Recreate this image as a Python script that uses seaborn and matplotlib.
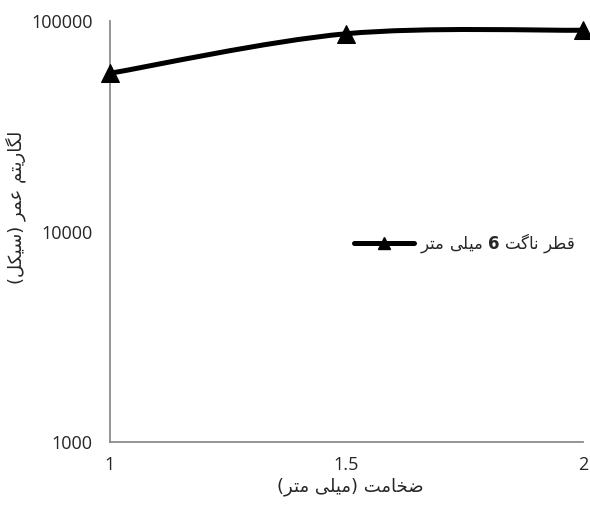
import numpy as np
import matplotlib
matplotlib.use("Agg")
import matplotlib.pyplot as plt
import seaborn as sns
import pandas as pd
from matplotlib.path import Path
from matplotlib.patches import PathPatch
from matplotlib.lines import Line2D
from matplotlib.ticker import NullLocator

# ---------------- data ----------------
thickness = [1.0, 1.5, 2.0]
life = [56400, 87000, 90400]
x_ticks = [1.0, 1.5, 2.0]
x_ticklabels = ["1", "1.5", "2"]
y_ticks = [1000, 10000, 100000]
y_ticklabels = ["1000", "10000", "100000"]
series_label = "قطر ناگت 6 میلی متر"
x_label = "ضخامت (میلی متر)"
y_label = "لگاریتم عمر (سیکل)"

# ---------------- simple Persian shaping (matplotlib has no RTL shaping) ----------------
FORMS = {
    "ق": (0xFED5, 0xFED6, 0xFED7, 0xFED8),
    "ط": (0xFEC1, 0xFEC2, 0xFEC3, 0xFEC4),
    "ر": (0xFEAD, 0xFEAE, None, None),
    "ن": (0xFEE5, 0xFEE6, 0xFEE7, 0xFEE8),
    "ا": (0xFE8D, 0xFE8E, None, None),
    "گ": (0xFB92, 0xFB93, 0xFB94, 0xFB95),
    "ت": (0xFE95, 0xFE96, 0xFE97, 0xFE98),
    "م": (0xFEE1, 0xFEE2, 0xFEE3, 0xFEE4),
    "ی": (0xFBFC, 0xFBFD, 0xFBFE, 0xFBFF),
    "ل": (0xFEDD, 0xFEDE, 0xFEDF, 0xFEE0),
    "ع": (0xFEC9, 0xFECA, 0xFECB, 0xFECC),
    "س": (0xFEB1, 0xFEB2, 0xFEB3, 0xFEB4),
    "ک": (0xFB8E, 0xFB8F, 0xFB90, 0xFB91),
    "ض": (0xFEBD, 0xFEBE, 0xFEBF, 0xFEC0),
    "خ": (0xFEA5, 0xFEA6, 0xFEA7, 0xFEA8),
}
MIRROR = {"(": ")", ")": "("}


def shape(text):
    out = []
    n = len(text)
    for i, ch in enumerate(text):
        if ch not in FORMS:
            out.append(ch)
            continue
        iso, fin, ini, med = FORMS[ch]
        prev = text[i - 1] if i > 0 else None
        nxt = text[i + 1] if i < n - 1 else None
        jp = prev in FORMS and FORMS[prev][2] is not None
        jn = nxt in FORMS and ini is not None
        if jp and jn:
            code = med
        elif jp:
            code = fin
        elif jn:
            code = ini
        else:
            code = iso
        out.append(chr(code))
    vis = "".join(MIRROR.get(c, c) for c in reversed(out))
    return vis


# ---------------- style ----------------
sns.set_theme(style="white")
plt.rcParams["font.family"] = ["Open Sans", "DejaVu Sans"]
plt.rcParams["mathtext.fontset"] = "dejavusans"
GRAY = "#8c8c8c"
TXT = "#262626"
FA = ["DejaVu Sans"]

fig = plt.figure(figsize=(5.9, 5.16), dpi=100)
ax = fig.add_axes([0.1856, 0.1434, 0.8025, 0.8159])

df = pd.DataFrame({"thickness": thickness, "life": life})

# markers via seaborn
sns.lineplot(data=df, x="thickness", y="life", ax=ax, color="black",
             marker="^", markersize=13, markeredgecolor="black",
             linestyle="none", legend=False, clip_on=False, zorder=4)
ax.set_yscale("log")

# smoothed connecting line (Excel-like smoothing, bezier in x/log-y space)
xs = np.array(thickness, dtype=float)
ls = np.log10(np.array(life, dtype=float))
verts = [(xs[0], 10 ** ls[0])]
codes = [Path.MOVETO]
npt = len(xs)
for i in range(npt - 1):
    p0 = np.array([xs[max(i - 1, 0)], ls[max(i - 1, 0)]])
    p1 = np.array([xs[i], ls[i]])
    p2 = np.array([xs[i + 1], ls[i + 1]])
    p3 = np.array([xs[min(i + 2, npt - 1)], ls[min(i + 2, npt - 1)]])
    c1 = p1 + (p2 - p0) / 6.0
    c2 = p2 - (p3 - p1) / 6.0
    for p in (c1, c2, p2):
        verts.append((p[0], 10 ** p[1]))
        codes.append(Path.CURVE4)
patch = PathPatch(Path(verts, codes), facecolor="none", edgecolor="black",
                  lw=3.6, capstyle="round", joinstyle="round",
                  clip_on=False, zorder=3, transform=ax.transData)
ax.add_patch(patch)

ax.set_xlim(1.0, 2.0)
ax.set_ylim(1000, 100000)
ax.set_xticks(x_ticks)
ax.set_xticklabels(x_ticklabels)
ax.set_yticks(y_ticks)
ax.set_yticklabels(y_ticklabels)
ax.yaxis.set_minor_locator(NullLocator())
ax.xaxis.set_minor_locator(NullLocator())
ax.set_xlabel("")
ax.set_ylabel("")

for s in ("top", "right"):
    ax.spines[s].set_visible(False)
for s in ("left", "bottom"):
    ax.spines[s].set_color(GRAY)
    ax.spines[s].set_linewidth(1.3)
ax.tick_params(axis="both", which="major", direction="inout", length=10,
               width=1.3, color=GRAY, labelsize=13, labelcolor=TXT)
ax.tick_params(axis="y", pad=7)
ax.tick_params(axis="x", pad=5)
ax.grid(False)

# axis titles
fig.text(0.593, 0.056, shape(x_label), ha="center", va="center",
         fontsize=13, color=TXT, family=FA)
fig.text(0.026, 0.599, shape(y_label), ha="center", va="center",
         rotation=90, fontsize=13, color=TXT, family=FA)

# legend
leg_text = shape(series_label).replace("6", r"$\mathbf{6}$")
handle = Line2D([], [], color="black", lw=3.6, marker="^", markersize=9,
                markeredgecolor="black")
leg = fig.legend([handle], [leg_text], loc="center left",
                 bbox_to_anchor=(0.600, 0.529), frameon=False,
                 borderpad=0, borderaxespad=0, handlelength=3.6,
                 handletextpad=0.35, prop={"family": FA, "size": 12})
for t in leg.get_texts():
    t.set_color(TXT)

fig.savefig("out.png", dpi=100)
